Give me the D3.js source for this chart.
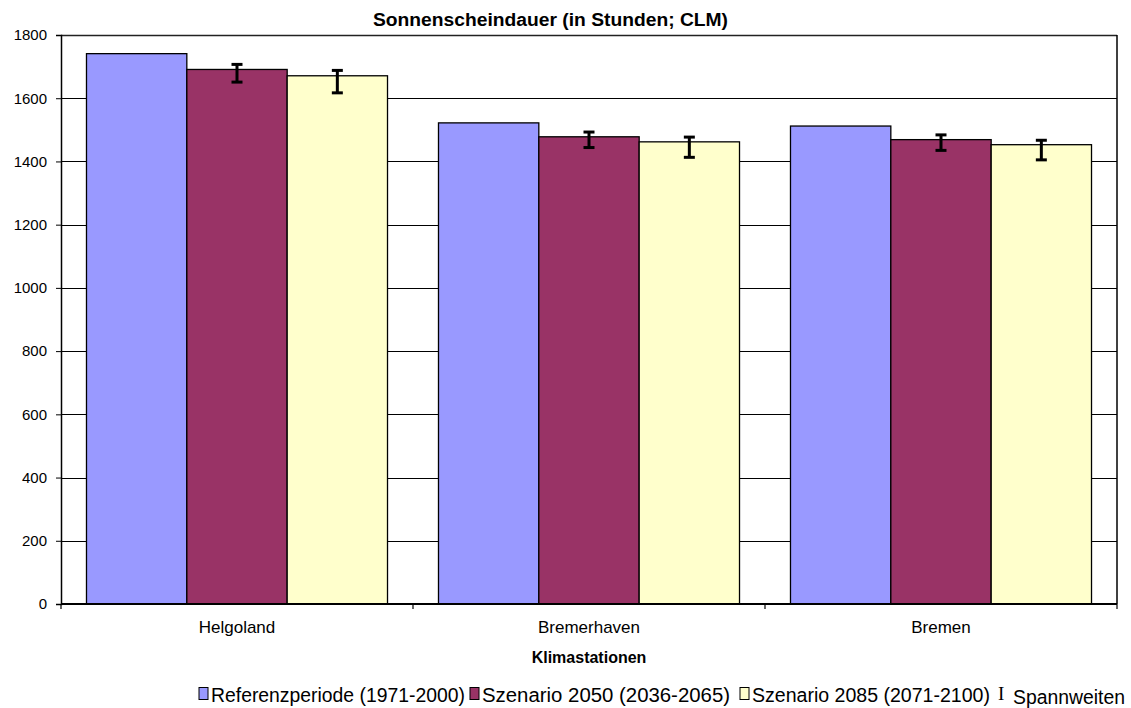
<!DOCTYPE html>
<html><head><meta charset="utf-8">
<script src="https://cdn.jsdelivr.net/npm/d3@7"></script>
<style>body{margin:0;background:#fff}svg{display:block;font-family:"Liberation Sans",Arial,sans-serif}</style>
</head><body><svg id="c" width="1131" height="708"></svg>
<script>
const categories = ["Helgoland","Bremerhaven","Bremen"];
const seriesNames = ["Referenzperiode (1971-2000)","Szenario 2050 (2036-2065)","Szenario 2085 (2071-2100)"];
const seriesColors = ["#9999ff","#993366","#ffffcc"];
const refValues = [1741,1522,1512];
const s2050Values = [1691,1478,1469];
const s2085Values = [1671,1462,1453];
const s2050Low = [1651,1444,1435];
const s2050High = [1707,1493,1484];
const s2085Low = [1617,1413,1405];
const s2085High = [1688,1477,1467];
const yTicks = [0,200,400,600,800,1000,1200,1400,1600,1800];

const values = [refValues, s2050Values, s2085Values];
const errs = [null, [s2050Low, s2050High], [s2085Low, s2085High]];
const FF = "Liberation Sans, Arial, sans-serif";

const svg = d3.select("#c");
const L=61, T=35, R=1117, B=604;
const x0 = d3.scaleBand().domain(categories).range([L,R]).paddingInner(0).paddingOuter(0);
const x1 = d3.scaleBand().domain([0,1,2]).range([0,x0.bandwidth()]).paddingOuter(0.254).paddingInner(0);
const y = d3.scaleLinear().domain([0,1800]).range([B,T]);

// gridlines
svg.append("g").selectAll("line").data(yTicks.filter(d=>d>0)).join("line")
  .attr("x1",L).attr("x2",R).attr("y1",d=>Math.round(y(d))+0.5).attr("y2",d=>Math.round(y(d))+0.5)
  .attr("stroke","#000").attr("stroke-width",1);

// bars
const g = svg.append("g");
categories.forEach((c,ci)=>{
  values.forEach((vals,si)=>{
    g.append("rect")
      .attr("x",x0(c)+x1(si)).attr("y",y(vals[ci]))
      .attr("width",x1.bandwidth()).attr("height",B-y(vals[ci]))
      .attr("fill",seriesColors[si]).attr("stroke","#000").attr("stroke-width",1.3);
  });
});
// error bars
categories.forEach((c,ci)=>{
  errs.forEach((e,si)=>{
    if(!e) return;
    const cx = x0(c)+x1(si)+x1.bandwidth()/2;
    const lo=y(e[0][ci]), hi=y(e[1][ci]);
    g.append("line").attr("x1",cx).attr("x2",cx).attr("y1",lo).attr("y2",hi).attr("stroke","#000").attr("stroke-width",3);
    [lo,hi].forEach(v=>g.append("line").attr("x1",cx-5.5).attr("x2",cx+5.5).attr("y1",v).attr("y2",v).attr("stroke","#000").attr("stroke-width",3));
  });
});

// plot border
svg.append("line").attr("x1",L).attr("x2",R).attr("y1",T+0.5).attr("y2",T+0.5).attr("stroke","#222").attr("stroke-width",1.3);
svg.append("line").attr("x1",R).attr("x2",R).attr("y1",T).attr("y2",B).attr("stroke","#000").attr("stroke-width",1.5);

// y axis
const ya = svg.append("g").attr("transform",`translate(${L},0)`)
  .call(d3.axisLeft(y).tickValues(yTicks).tickFormat(d3.format("d")).tickSize(5).tickPadding(9));
ya.select(".domain").attr("stroke","#000").attr("stroke-width",1.5);
ya.selectAll(".tick line").attr("stroke","#000");
ya.selectAll("text").attr("font-size",15).attr("fill","#000").attr("font-family",FF);

// x axis
const xa = svg.append("g").attr("transform",`translate(0,${B})`);
xa.append("line").attr("x1",L).attr("x2",R).attr("y1",0).attr("y2",0).attr("stroke","#000").attr("stroke-width",2);
const bounds = [0,1,2,3].map(i=> i<3 ? x0(categories[i]) : R);
xa.selectAll(".t").data(bounds).join("line").attr("x1",d=>d).attr("x2",d=>d).attr("y1",0).attr("y2",5).attr("stroke","#000").attr("stroke-width",1.2);
xa.selectAll("text").data(categories).join("text")
  .attr("x",d=>x0(d)+x0.bandwidth()/2).attr("y",29).attr("text-anchor","middle")
  .attr("font-size",17).attr("font-family",FF).text(d=>d);

// titles
svg.append("text").attr("x",550.5).attr("y",26).attr("text-anchor","middle").attr("font-size",18).attr("font-weight","bold")
  .attr("textLength",355).attr("lengthAdjust","spacingAndGlyphs").text("Sonnenscheindauer (in Stunden; CLM)");
svg.append("text").attr("x",589).attr("y",663).attr("text-anchor","middle").attr("font-size",16).attr("font-weight","bold").text("Klimastationen");

// legend
const leg = svg.append("g");
const legX = [199,470,740];
const legW = [254,248,238];
seriesNames.forEach((n,i)=>{
  leg.append("rect").attr("x",legX[i]).attr("y",687.5).attr("width",9).attr("height",12).attr("fill",seriesColors[i]).attr("stroke","#000").attr("stroke-width",1);
  leg.append("text").attr("x",legX[i]+12).attr("y",701.5).attr("font-size",20)
    .attr("textLength",legW[i]).attr("lengthAdjust","spacingAndGlyphs").text(n);
});
leg.append("text").attr("x",998).attr("y",700).attr("font-size",19).attr("font-family","Liberation Serif, serif").text("I");
leg.append("text").attr("x",1013).attr("y",704).attr("font-size",20).attr("textLength",112).attr("lengthAdjust","spacingAndGlyphs").text("Spannweiten");
</script></body></html>
